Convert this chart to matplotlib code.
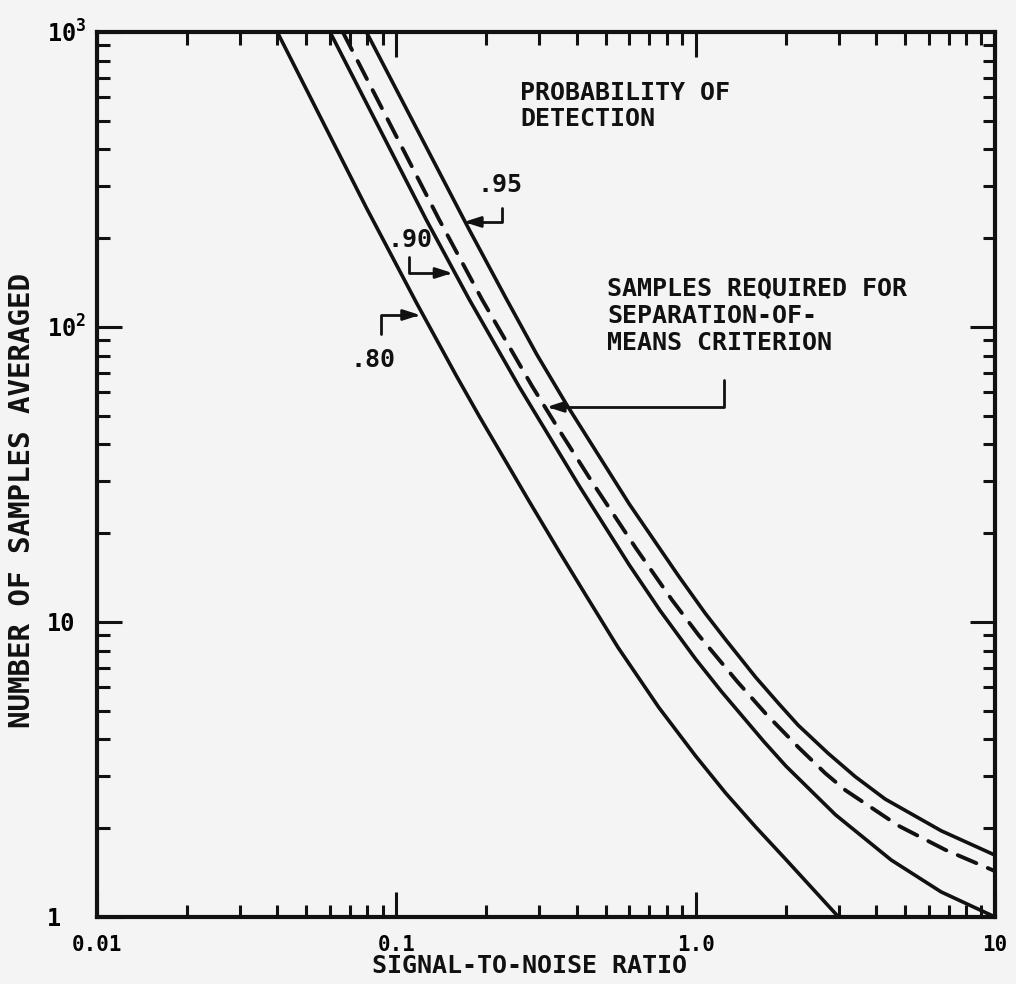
import matplotlib
matplotlib.use("Agg")
import matplotlib.pyplot as plt
from matplotlib.ticker import LogLocator, NullFormatter, FixedLocator

# values (signal-to-noise ratio vs samples averaged)
snr_80 = [0.040, 0.0794, 0.117, 0.1585, 0.189, 0.278, 0.349, 0.43, 0.55, 0.753, 1.0, 1.259, 1.585, 2.0, 3.0]
n_80 = [1000, 253.5, 120.2, 68.4, 49.9, 25.6, 17.4, 12.3, 8.2, 5.13, 3.51, 2.63, 2.02, 1.567, 1.0]

snr_90 = [0.060, 0.1259, 0.175, 0.257, 0.4074, 0.60, 0.7603, 1.0, 1.219, 1.69, 2.0, 2.931, 4.498, 6.607, 10.0]
n_90 = [1000, 230.7, 124.2, 62.8, 29.0, 15.6, 10.93, 7.48, 5.81, 3.93, 3.25, 2.22, 1.56, 1.216, 1.0]

snr_sep = [0.0662, 0.139, 0.1932, 0.2838, 0.3548, 0.4498, 0.631, 0.832, 1.023, 1.371, 1.71, 2.203,
           2.71, 3.162, 4.75, 6.81, 10.0]
n_sep = [1000, 231, 124, 63.1, 43.7, 29.9, 17.8, 11.9, 9.02, 6.31, 4.90, 3.76, 3.07, 2.69, 2.04, 1.69, 1.43]

snr_95 = [0.0794, 0.175, 0.2328, 0.2951, 0.3715, 0.60, 0.877, 1.076, 1.259, 1.585, 1.89, 2.198, 2.767,
          3.412, 4.295, 6.607, 10.0]
n_95 = [1000, 214, 124.7, 80.4, 54.3, 25.1, 14.3, 10.7, 8.71, 6.50, 5.30, 4.47, 3.59, 2.99, 2.51, 1.96, 1.62]

x_ticks = [0.01, 0.1, 1.0, 10.0]
x_tick_labels = ['0.01', '0.1', '1.0', '10']
y_ticks = [1, 10, 100, 1000]
y_tick_labels = ['1', '10', r'$10^2$', r'$10^3$']

plt.rcParams['font.family'] = ['DejaVu Sans Mono', 'DejaVu Sans']
plt.rcParams['font.weight'] = 'bold'
plt.rcParams['mathtext.fontset'] = 'custom'
plt.rcParams['mathtext.rm'] = 'DejaVu Sans Mono:bold'
plt.rcParams['mathtext.it'] = 'DejaVu Sans Mono:bold'
plt.rcParams['mathtext.bf'] = 'DejaVu Sans Mono:bold'

ink = '#111111'
paper = '#f4f4f4'

fig = plt.figure(figsize=(10.16, 9.84), dpi=100, facecolor=paper)
ax = fig.add_axes([0.0955, 0.0681, 0.8839, 0.8994], facecolor=paper)

ax.plot(snr_80, n_80, color=ink, lw=2.6, solid_joinstyle='round')
ax.plot(snr_90, n_90, color=ink, lw=2.6, solid_joinstyle='round')
ax.plot(snr_sep, n_sep, color=ink, lw=2.8, linestyle=(0, (5.2, 3.2)), dash_capstyle='round')
ax.plot(snr_95, n_95, color=ink, lw=2.6, solid_joinstyle='round')

ax.set_xscale('log')
ax.set_yscale('log')
ax.set_xlim(0.01, 10)
ax.set_ylim(1, 1000)

for s in ax.spines.values():
    s.set_linewidth(3)
    s.set_color(ink)

ax.xaxis.set_major_locator(FixedLocator(x_ticks))
ax.set_xticklabels(x_tick_labels)
ax.yaxis.set_major_locator(FixedLocator(y_ticks))
ax.set_yticklabels(y_tick_labels)
ax.xaxis.set_minor_locator(LogLocator(base=10, subs=range(2, 10)))
ax.yaxis.set_minor_locator(LogLocator(base=10, subs=range(2, 10)))
ax.xaxis.set_minor_formatter(NullFormatter())
ax.yaxis.set_minor_formatter(NullFormatter())

ax.tick_params(which='both', direction='in', top=True, right=True, color=ink, width=2.2)
ax.tick_params(which='major', length=18)
ax.tick_params(which='minor', length=9)
ax.tick_params(axis='x', which='major', labelsize=15, pad=13)
ax.tick_params(axis='y', which='major', labelsize=17, pad=36)
for lab in ax.get_yticklabels():
    lab.set_horizontalalignment('left')

ax.text(-0.0835, 0.471, 'NUMBER OF SAMPLES AVERAGED', transform=ax.transAxes,
        rotation=90, ha='center', va='center', fontsize=21, color=ink)
ax.text(0.482, -0.055, 'SIGNAL-TO-NOISE RATIO', transform=ax.transAxes,
        ha='center', va='center', fontsize=18, color=ink)

ax.text(0.471, 0.945, 'PROBABILITY OF\nDETECTION', transform=ax.transAxes,
        ha='left', va='top', fontsize=18, linespacing=1.1, color=ink)
ax.text(0.568, 0.723, 'SAMPLES REQUIRED FOR\nSEPARATION-OF-\nMEANS CRITERION',
        transform=ax.transAxes, ha='left', va='top', fontsize=18, linespacing=1.15, color=ink)

ax.text(0.449, 0.827, '.95', transform=ax.transAxes, ha='center', va='center', fontsize=18, color=ink)
ax.text(0.3486, 0.765, '.90', transform=ax.transAxes, ha='center', va='center', fontsize=18, color=ink)
ax.text(0.307, 0.629, '.80', transform=ax.transAxes, ha='center', va='center', fontsize=18, color=ink)

arrow = dict(arrowstyle='-|>,head_length=0.5,head_width=0.16', mutation_scale=20,
             connectionstyle='angle,angleA=90,angleB=0,rad=0',
             lw=2, color=ink, shrinkA=0, shrinkB=0)
ax.annotate('', xy=(0.168, 227), xytext=(0.2256, 253), arrowprops=arrow)
ax.annotate('', xy=(0.154, 152.4), xytext=(0.1105, 172.7), arrowprops=arrow)
ax.annotate('', xy=(0.120, 109.8), xytext=(0.0891, 94.7), arrowprops=arrow)
ax.annotate('', xy=(0.318, 53.6), xytext=(1.24, 66.1), arrowprops=arrow)

fig.savefig('out.png', dpi=100, facecolor=paper)
